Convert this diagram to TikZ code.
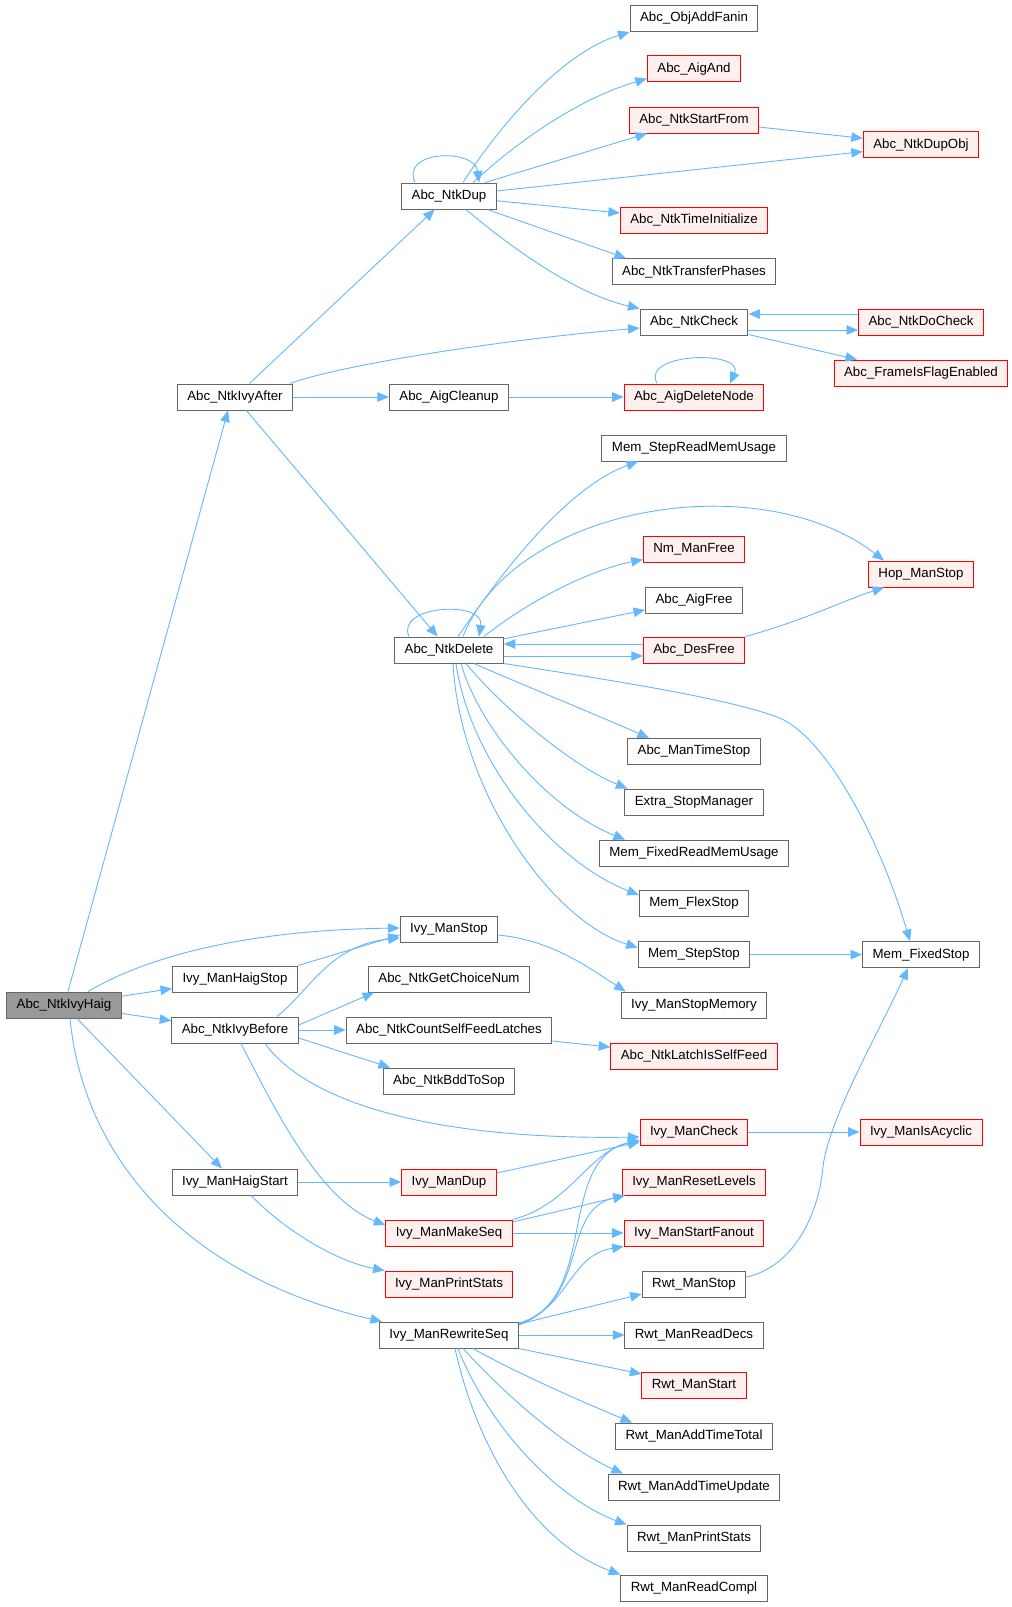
\documentclass[tikz,border=0pt]{standalone}
\usepackage{fontspec}
\setmainfont{Liberation Sans}
\usetikzlibrary{arrows.meta}
\definecolor{edgec}{HTML}{63B8FF}
\definecolor{bord}{HTML}{666666}
\definecolor{redfill}{HTML}{FFF0F0}
\definecolor{grayfill}{HTML}{999999}
\definecolor{redb}{HTML}{FF0000}
\begin{document}
\begin{tikzpicture}[x=1pt,y=-1pt,
  box/.style={draw=bord, fill=white, line width=1pt, minimum height=26pt, inner xsep=10pt, inner ysep=0pt, font=\fontsize{13.3}{16}\selectfont, anchor=center},
  rbox/.style={box, draw=redb, fill=redfill},
  gbox/.style={box, fill=grayfill},
  arr/.style={draw=edgec, line width=0.9pt, -{Triangle[length=11.5pt,width=9.5pt]}},
]
\useasboundingbox (0,0) rectangle (1012,1607);
\fill[white] (0,0) rectangle (1012,1607);

% column 1 and 2
\node[gbox] (n0) at (64,1005) {Abc\_NtkIvyHaig};
\node[box] (n1) at (235,397) {Abc\_NtkIvyAfter};
\node[box] (n2) at (235,979) {Ivy\_ManHaigStop};
\node[box] (n3) at (235,1030) {Abc\_NtkIvyBefore};
\node[box] (n4) at (235,1182) {Ivy\_ManHaigStart};

% column 3
\node[box] (d) at (449,196) {Abc\_NtkDup};
\node[box] (ac) at (449,397) {Abc\_AigCleanup};
\node[box] (nd) at (449,650) {Abc\_NtkDelete};
\node[box] (ims) at (449,929) {Ivy\_ManStop};
\node[box] (gcn) at (449,979) {Abc\_NtkGetChoiceNum};
\node[box] (csf) at (449,1030) {Abc\_NtkCountSelfFeedLatches};
\node[box] (bts) at (449,1081) {Abc\_NtkBddToSop};
\node[rbox] (imd) at (449,1182) {Ivy\_ManDup};
\node[rbox] (mms) at (449,1233) {Ivy\_ManMakeSeq};
\node[rbox] (mps) at (449,1284) {Ivy\_ManPrintStats};
\node[box] (mrs) at (449,1335) {Ivy\_ManRewriteSeq};

% column 4
\node[box] (ofa) at (694,18.5) {Abc\_ObjAddFanin};
\node[rbox] (aa) at (694,68.7) {Abc\_AigAnd};
\node[rbox] (sf) at (694,120) {Abc\_NtkStartFrom};
\node[rbox] (ti) at (694,220.4) {Abc\_NtkTimeInitialize};
\node[box] (tp) at (694,271.7) {Abc\_NtkTransferPhases};
\node[box] (ck) at (694,322) {Abc\_NtkCheck};
\node[rbox] (adn) at (694,397) {Abc\_AigDeleteNode};
\node[box] (srm) at (694,448) {Mem\_StepReadMemUsage};
\node[rbox] (nmf) at (694,549.6) {Nm\_ManFree};
\node[box] (af) at (694,600) {Abc\_AigFree};
\node[rbox] (df) at (694,650) {Abc\_DesFree};
\node[box] (mts) at (694,751.5) {Abc\_ManTimeStop};
\node[box] (esm) at (694,802) {Extra\_StopManager};
\node[box] (fmu) at (694,853) {Mem\_FixedReadMemUsage};
\node[box] (flx) at (694,903) {Mem\_FlexStop};
\node[box] (sst) at (694,954.6) {Mem\_StepStop};
\node[box] (ism) at (694,1005) {Ivy\_ManStopMemory};
\node[rbox] (lsf) at (694,1056) {Abc\_NtkLatchIsSelfFeed};
\node[rbox] (ic) at (694,1132) {Ivy\_ManCheck};
\node[rbox] (irl) at (694,1182) {Ivy\_ManResetLevels};
\node[rbox] (isf) at (694,1233) {Ivy\_ManStartFanout};
\node[box] (rms) at (694,1284) {Rwt\_ManStop};
\node[box] (rrd) at (694,1335) {Rwt\_ManReadDecs};
\node[rbox] (rst) at (694,1385) {Rwt\_ManStart};
\node[box] (att) at (694,1436) {Rwt\_ManAddTimeTotal};
\node[box] (atu) at (694,1487) {Rwt\_ManAddTimeUpdate};
\node[box] (rps) at (694,1538) {Rwt\_ManPrintStats};
\node[box] (rrc) at (694,1588) {Rwt\_ManReadCompl};

% column 5
\node[rbox] (do) at (921,144.6) {Abc\_NtkDupObj};
\node[rbox] (dc) at (921,322) {Abc\_NtkDoCheck};
\node[rbox] (fe) at (921,373) {Abc\_FrameIsFlagEnabled};
\node[rbox] (hms) at (921,574) {Hop\_ManStop};
\node[box] (fs) at (921,954.6) {Mem\_FixedStop};
\node[rbox] (iac) at (921,1132) {Ivy\_ManIsAcyclic};

% edges from Abc_NtkIvyHaig
\draw[arr] ([xshift=4pt]n0.north) -- ([xshift=-7pt]n1.south);
\draw[arr] ([xshift=24pt]n0.north) .. controls (150,955) and (250,930) .. ([yshift=1pt]ims.west);
\draw[arr] (n0) -- (n2);
\draw[arr] (n0) -- (n3);
\draw[arr] (n0) -- (n4);
\draw[arr] ([xshift=6pt]n0.south) .. controls (85,1170) and (200,1280) .. ([xshift=3pt]mrs.north west);

% Abc_NtkIvyAfter
\draw[arr] (n1) -- (d);
\draw[arr] ([xshift=55pt]n1.north) .. controls (340,365) and (500,340) .. ([yshift=-6pt]ck.west);
\draw[arr] (n1) -- (ac);
\draw[arr] (n1) -- (nd);

% Abc_NtkDup
\draw[arr] ([xshift=14pt]d.north) .. controls (490,140) and (555,55) .. (ofa.south west);
\draw[arr] ([xshift=-34pt]d.north) .. controls (400,150) and (475,148) .. ([xshift=30pt]d.north);
\draw[arr] ([xshift=24pt]d.north) .. controls (530,130) and (590,95) .. ([yshift=-10pt]aa.west);
\draw[arr] ([xshift=36pt]d.north) -- ([xshift=-47pt]sf.south);
\draw[arr] ([yshift=5pt]d.east) -- ([yshift=-7pt]do.west);
\draw[arr] (sf) -- (do);
\draw[arr] (d) -- (ti);
\draw[arr] (d) -- ([xshift=-68pt]tp.north);
\draw[arr] ([xshift=17pt]d.south) .. controls (520,255) and (580,295) .. (ck.north west);

% Abc_NtkCheck
\draw[arr] ([yshift=-8pt]ck.east) -- ([yshift=-8pt]dc.west);
\draw[arr] ([yshift=8pt]dc.west) -- ([yshift=8pt]ck.east);
\draw[arr] (ck) -- ([xshift=-64pt]fe.north);

% Abc_AigCleanup
\draw[arr] (ac) -- (adn);
\draw[arr] ([xshift=-37pt]adn.north) .. controls (640,352) and (745,350) .. ([xshift=36pt]adn.north);

% Abc_NtkDelete
\draw[arr] ([xshift=9pt]nd.north) .. controls (490,590) and (560,490) .. ([xshift=-56pt]srm.south);
\draw[arr] ([xshift=14pt]nd.north) .. controls (515,505) and (760,465) .. ([xshift=-37pt]hms.north);
\draw[arr] ([xshift=-40pt]nd.north) .. controls (395,605) and (485,600) .. ([xshift=30pt]nd.north);
\draw[arr] ([xshift=35pt]nd.north) .. controls (530,600) and (590,570) .. ([yshift=-10pt]nmf.west);
\draw[arr] (nd) -- (af);
\draw[arr] ([yshift=-6pt]nd.east) -- ([yshift=-6pt]df.west);
\draw[arr] ([yshift=6pt]df.west) -- ([yshift=6pt]nd.east);
\draw[arr] (df.north east) .. controls (800,622) and (845,600) .. ([xshift=-37pt]hms.south);
\draw[arr] (nd.south east) .. controls (610,680) and (740,700) .. (784,720) .. controls (830,745) and (880,840) .. ([xshift=-11pt]fs.north);
\draw[arr] ([xshift=25pt]nd.south) .. controls (530,688) and (590,712) .. ([xshift=-45pt]mts.north);
\draw[arr] ([xshift=17pt]nd.south) .. controls (500,705) and (570,765) .. ([xshift=3pt]esm.north west);
\draw[arr] ([xshift=12pt]nd.south) .. controls (480,730) and (550,810) .. ([xshift=-69pt]fmu.north);
\draw[arr] ([xshift=7pt]nd.south) .. controls (470,760) and (550,860) .. ([yshift=8pt]flx.west);
\draw[arr] ([xshift=4pt]nd.south) .. controls (460,790) and (550,920) .. ([yshift=7pt]sst.west);
\draw[arr] (sst) -- (fs);

% Ivy_ManStop
\draw[arr] ([yshift=-6pt]ims.east) .. controls (550,940) and (585,965) .. ([xshift=5pt]ism.north west);
\draw[arr] (n2.north east) -- ([yshift=-6pt]ims.west);

% Abc_NtkIvyBefore
\draw[arr] ([xshift=42pt]n3.north) .. controls (310,990) and (330,945) .. ([yshift=-9pt]ims.west);
\draw[arr] ([yshift=5pt]n3.east) -- ([xshift=-75pt]gcn.south);
\draw[arr] (n3) -- (csf);
\draw[arr] ([yshift=-8pt]n3.east) -- ([xshift=-59pt]bts.north);
\draw[arr] ([xshift=30pt]n3.south) .. controls (310,1105) and (440,1140) .. ([yshift=-5pt]ic.west);
\draw[arr] ([xshift=6pt]n3.south) .. controls (275,1110) and (320,1200) .. ([yshift=8pt]mms.west);
\draw[arr] (csf) -- (lsf);
\draw[arr] (ic) -- (iac);

% Ivy_ManHaigStart
\draw[arr] (n4) -- (imd);
\draw[arr] ([xshift=16pt]n4.south) .. controls (290,1235) and (340,1262) .. (mps.north west);
\draw[arr] ([yshift=9pt]imd.east) -- ([yshift=-10pt]ic.west);

% Ivy_ManMakeSeq
\draw[arr] (mms.north east) .. controls (570,1205) and (590,1150) .. ([yshift=-9pt]ic.west);
\draw[arr] ([yshift=11pt]mms.east) -- ([xshift=3pt]irl.south west);
\draw[arr] (mms) -- (isf);

% Ivy_ManRewriteSeq
\draw[arr] ([yshift=12pt]mrs.east) .. controls (600,1300) and (555,1160) .. ([yshift=-8pt]ic.west);
\draw[arr] ([yshift=11pt]mrs.east) .. controls (590,1300) and (560,1210) .. ([xshift=3pt]irl.south west);
\draw[arr] ([yshift=10pt]mrs.east) .. controls (570,1305) and (570,1255) .. (isf.south west);
\draw[arr] ([yshift=11pt]mrs.east) -- ([yshift=-10pt]rms.west);
\draw[arr] (mrs) -- (rrd);
\draw[arr] (mrs.south east) -- ([yshift=11pt]rst.west);
\draw[arr] ([xshift=24pt]mrs.south) .. controls (520,1375) and (590,1405) .. ([xshift=-62pt]att.north);
\draw[arr] ([xshift=14pt]mrs.south) .. controls (510,1400) and (570,1450) .. ([xshift=-71pt]atu.north);
\draw[arr] ([xshift=9pt]mrs.south) .. controls (490,1430) and (560,1500) .. (rps.north west);
\draw[arr] ([xshift=6pt]mrs.south) .. controls (480,1460) and (540,1545) .. (rrc.north west);

% Rwt_ManStop
\draw[arr] ([yshift=7pt]rms.east) .. controls (790,1268) and (818,1220) .. (823,1167) .. controls (828,1120) and (880,1030) .. ([xshift=-13pt]fs.south);
\end{tikzpicture}
\end{document}
